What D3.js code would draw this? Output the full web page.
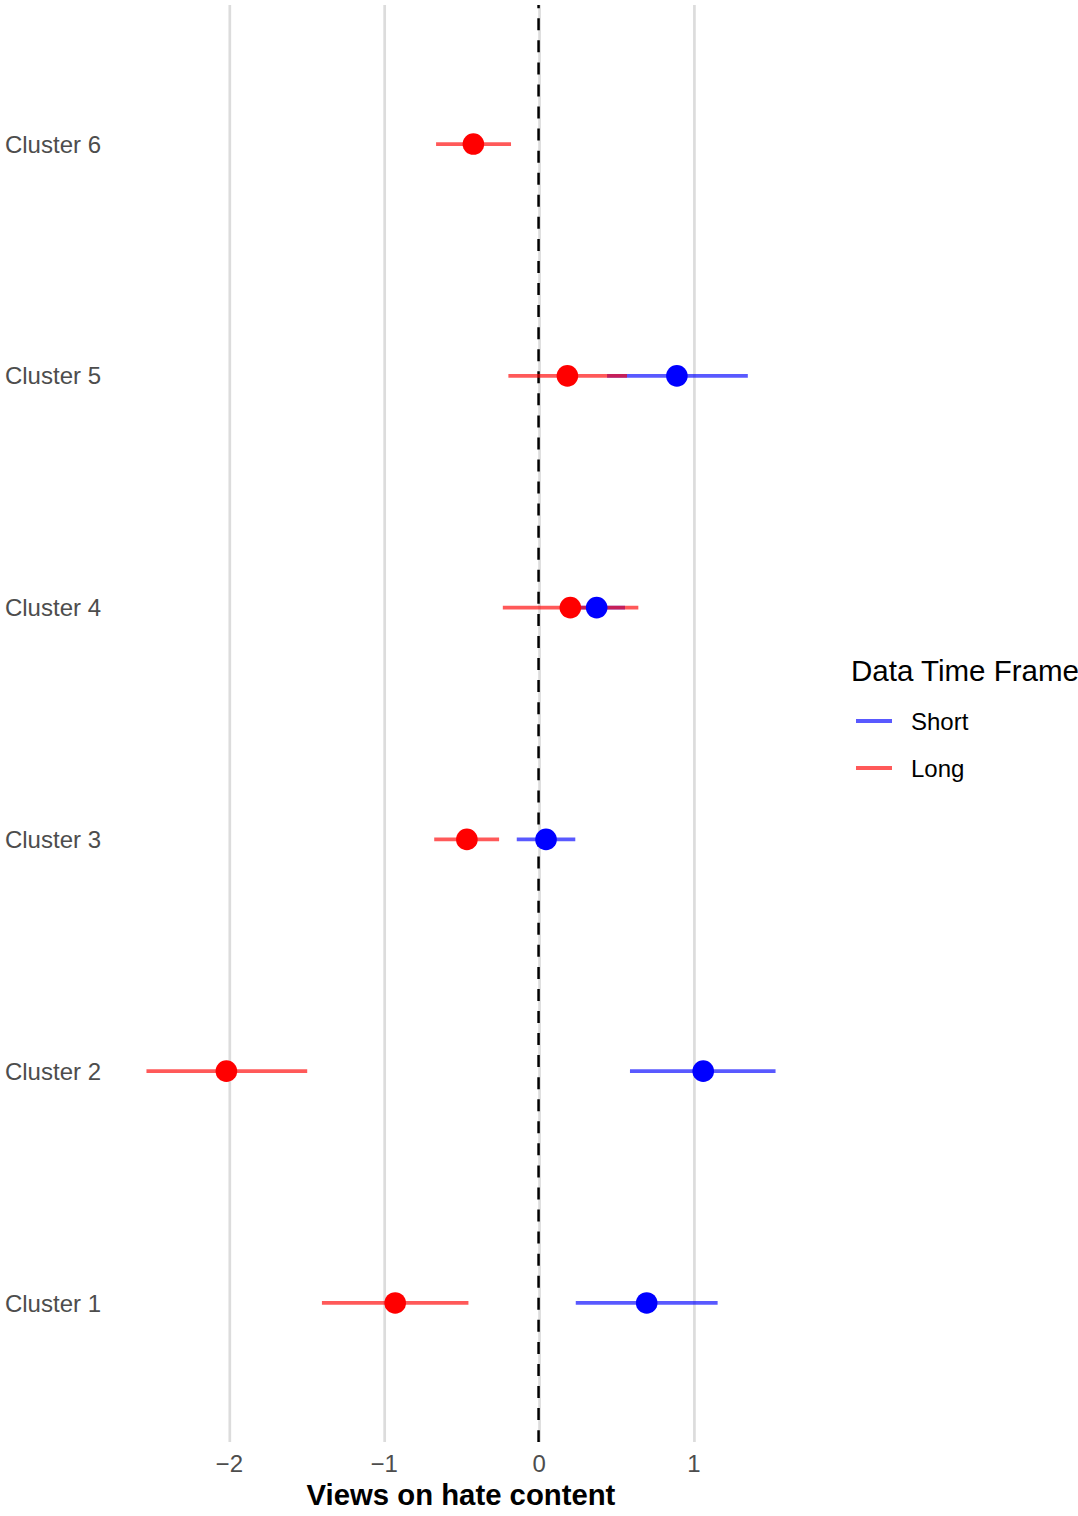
<!DOCTYPE html>
<html>
<head>
<meta charset="utf-8">
<script src="https://cdn.jsdelivr.net/npm/d3@7"></script>
<style>
  html, body { margin: 0; padding: 0; background: #fff; }
  svg text { font-family: "Liberation Sans", Arial, Helvetica, sans-serif; }
</style>
</head>
<body>
<script>
// ---- Data ----
const clusters = ["Cluster 1", "Cluster 2", "Cluster 3", "Cluster 4", "Cluster 5", "Cluster 6"];
const shortEst = [0.695, 1.060, 0.045, 0.372, 0.890, null];
const shortLo  = [0.237, 0.587, -0.144, 0.189, 0.439, null];
const shortHi  = [1.153, 1.527, 0.234, 0.555, 1.348, null];
const longEst  = [-0.929, -2.019, -0.466, 0.202, 0.183, -0.424];
const longLo   = [-1.402, -2.535, -0.677, -0.234, -0.198, -0.665];
const longHi   = [-0.456, -1.497, -0.258, 0.641, 0.568, -0.181];
const xTicks = [-2, -1, 0, 1];
const seriesNames = ["Short", "Long"];
const seriesColors = ["#0000FF", "#FF0000"];
const xTitle = "Views on hate content";
const legendTitle = "Data Time Frame";

// ---- Layout ----
const W = 1078, H = 1516;
const panel = { left: 115, right: 807, top: 5, bottom: 1442 };

const svg = d3.select("body").append("svg")
  .attr("width", W).attr("height", H)
  .attr("viewBox", `0 0 ${W} ${H}`);

const series = [
  { name: seriesNames[0], color: seriesColors[0], est: shortEst, lo: shortLo, hi: shortHi },
  { name: seriesNames[1], color: seriesColors[1], est: longEst, lo: longLo, hi: longHi }
];

const rows = [];
series.forEach(s => {
  clusters.forEach((c, i) => {
    if (s.est[i] != null) rows.push({ cluster: c, series: s.name, color: s.color, est: s.est[i], lo: s.lo[i], hi: s.hi[i] });
  });
});

const dmin = d3.min(rows, d => d.lo), dmax = d3.max(rows, d => d.hi);
const pad = 0.05 * (dmax - dmin);
const x = d3.scaleLinear().domain([dmin - pad, dmax + pad]).range([panel.left, panel.right]);
const y = d3.scalePoint().domain(clusters).range([panel.bottom, panel.top]).padding(0.6);

// grid lines
svg.append("g").selectAll("line").data(xTicks).join("line")
  .attr("x1", d => x(d) + 0.5).attr("x2", d => x(d) + 0.5)
  .attr("y1", panel.top).attr("y2", panel.bottom)
  .attr("stroke", "#DCDCDC").attr("stroke-width", 2.7);

// dashed zero line
svg.append("line")
  .attr("x1", x(0) - 0.5).attr("x2", x(0) - 0.5)
  .attr("y1", panel.top).attr("y2", panel.bottom)
  .attr("stroke", "#000").attr("stroke-width", 2.5)
  .attr("stroke-dasharray", "12,10.06").attr("stroke-dashoffset", 8.76);

// interval lines (Short first, Long on top)
svg.append("g").selectAll("line").data(rows).join("line")
  .attr("x1", d => x(d.lo)).attr("x2", d => x(d.hi))
  .attr("y1", d => y(d.cluster)).attr("y2", d => y(d.cluster))
  .attr("stroke", d => d.color).attr("stroke-opacity", 0.65)
  .attr("stroke-width", 3.8);

// points
svg.append("g").selectAll("circle").data(rows).join("circle")
  .attr("cx", d => x(d.est)).attr("cy", d => y(d.cluster))
  .attr("r", 10.8).attr("fill", d => d.color);

// y axis labels
svg.append("g").selectAll("text").data(clusters).join("text")
  .attr("x", 101).attr("y", d => y(d)).attr("dy", "0.36em")
  .attr("text-anchor", "end").attr("font-size", 24).attr("fill", "#4D4D4D")
  .text(d => d);

// x axis tick labels
const fmt = d3.format("d");
svg.append("g").selectAll("text").data(xTicks).join("text")
  .attr("x", d => x(d)).attr("y", 1472)
  .attr("text-anchor", "middle").attr("font-size", 24).attr("fill", "#4D4D4D")
  .text(d => fmt(d));

// x axis title
svg.append("text")
  .attr("x", (panel.left + panel.right) / 2).attr("y", 1505)
  .attr("text-anchor", "middle").attr("font-size", 29.3).attr("font-weight", "bold")
  .attr("fill", "#000").text(xTitle);

// legend
const lg = svg.append("g");
lg.append("text").attr("x", 851).attr("y", 681).attr("font-size", 29.5).attr("fill", "#000").text(legendTitle);
const keyY = [721, 768];
series.forEach((s, i) => {
  lg.append("line").attr("x1", 856).attr("x2", 892).attr("y1", keyY[i]).attr("y2", keyY[i])
    .attr("stroke", s.color).attr("stroke-opacity", 0.65).attr("stroke-width", 3.8);
  lg.append("text").attr("x", 911).attr("y", keyY[i]).attr("dy", "0.36em")
    .attr("font-size", 24).attr("fill", "#000").text(s.name);
});
</script>
</body>
</html>
